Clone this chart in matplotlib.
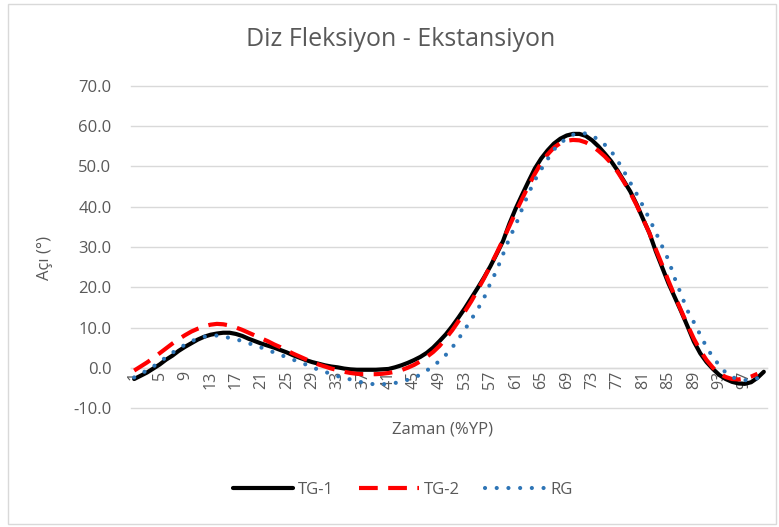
import matplotlib.pyplot as plt
from matplotlib.patches import Rectangle

# Datos (ángulo de rodilla por % del ciclo)
tg1 = [-2.8, -2.0, -1.2, -0.2, 0.8, 2.0, 3.0, 4.2, 5.2, 6.1,
       7.0, 7.7, 8.2, 8.5, 8.7, 8.7, 8.4, 7.9, 7.2, 6.6,
       6.0, 5.5, 5.0, 4.4, 3.8, 3.1, 2.5, 1.9, 1.4, 1.0,
       0.6, 0.3, 0.1, -0.2, -0.4, -0.5, -0.5, -0.5, -0.5, -0.4,
       -0.3, 0.1, 0.6, 1.2, 1.9, 2.7, 3.7, 5.0, 6.6, 8.3,
       10.3, 12.5, 14.8, 17.3, 19.8, 22.4, 25.2, 28.3, 31.5, 35.8,
       39.6, 43.0, 46.3, 49.5, 52.0, 54.0, 55.7, 56.9, 57.7, 58.1,
       58.1, 57.6, 56.5, 55.0, 53.2, 51.3, 49.0, 46.4, 43.8, 40.6,
       37.0, 33.5, 29.0, 25.0, 21.0, 17.5, 14.0, 10.3, 6.5, 3.6,
       1.4, -0.3, -1.8, -2.8, -3.5, -3.9, -4.0, -3.6, -2.5, -1.0]

tg2 = [-0.7, 0.3, 1.3, 2.4, 3.6, 4.8, 6.0, 7.1, 8.1, 9.0,
       9.7, 10.3, 10.7, 10.9, 10.8, 10.5, 10.0, 9.4, 8.7, 8.0,
       7.3, 6.6, 5.8, 5.1, 4.3, 3.5, 2.8, 2.1, 1.4, 0.8,
       0.3, -0.2, -0.6, -1.0, -1.3, -1.5, -1.6, -1.6, -1.6, -1.5,
       -1.3, -1.0, -0.6, 0.0, 0.7, 1.6, 2.7, 3.9, 5.4, 7.3,
       9.3, 11.6, 14.0, 16.5, 19.3, 22.2, 25.3, 28.5, 31.8, 35.2,
       38.7, 42.0, 45.2, 48.2, 50.9, 53.0, 54.7, 55.8, 56.4, 56.6,
       56.5, 56.0, 55.1, 53.9, 52.5, 50.8, 48.7, 46.2, 43.5, 40.4,
       37.0, 33.5, 29.5, 25.6, 21.6, 17.8, 14.2, 10.6, 7.2, 4.3,
       1.9, 0.0, -1.4, -2.3, -2.8, -2.9, -2.7, -2.2, -1.5]

rg = [-2.4, -1.5, -0.7, 0.3, 1.4, 2.6, 3.7, 4.8, 5.7, 6.6,
      7.2, 7.7, 8.0, 8.0, 7.8, 7.4, 7.1, 6.6, 6.1, 5.5,
      5.0, 4.4, 3.8, 3.2, 2.6, 2.0, 1.4, 0.8, 0.1, -0.5,
      -1.0, -1.6, -2.1, -2.5, -2.9, -3.3, -3.7, -4.0, -4.1, -4.1,
      -4.0, -3.8, -3.4, -3.0, -2.5, -1.7, -0.7, 0.4, 1.7, 3.2,
      5.0, 7.2, 9.5, 12.0, 14.5, 17.3, 21.0, 24.2, 28.2, 32.2,
      35.5, 39.5, 43.3, 46.6, 49.3, 51.8, 54.2, 55.8, 57.0, 57.9,
      58.3, 58.2, 57.7, 56.6, 55.4, 53.8, 51.5, 48.8, 46.0, 43.2,
      40.2, 37.0, 33.7, 30.2, 26.8, 22.2, 18.2, 14.2, 11.3, 8.2,
      5.1, 2.6, 0.6, -1.2, -2.3, -2.9, -3.1, -2.9, -2.6]

n_cat = 100
x_labels = [str(i) for i in range(1, n_cat + 1, 4)]
y_ticks = [-10, 0, 10, 20, 30, 40, 50, 60, 70]

gris = '#595959'
plt.rcParams['font.family'] = ['Open Sans', 'DejaVu Sans']

fig = plt.figure(figsize=(7.79, 5.27), dpi=100)
ax = fig.add_axes([131 / 779, 1 - 408 / 527, 636 / 779, 322 / 527])

# Borde del gráfico
fig.patches.append(Rectangle((8 / 779, 3 / 527), 768 / 779, 520 / 527,
                             transform=fig.transFigure, fill=False,
                             edgecolor='#d9d9d9', linewidth=1))

ax.plot(range(1, len(tg1) + 1), tg1, color='black', linewidth=3,
        solid_capstyle='round', label='TG-1', zorder=3)
ax.plot(range(1, len(tg2) + 1), tg2, color='#ff0000', linewidth=3,
        linestyle=(0, (4.5, 2.5)), dash_capstyle='butt', label='TG-2', zorder=4)
ax.plot(range(1, len(rg) + 1), rg, color='#2e75b6', linewidth=3,
        linestyle=(0, (0.01, 2.8)), dash_capstyle='round', label='RG', zorder=5)

ax.set_xlim(0.5, n_cat + 0.5)
ax.set_ylim(-10, 70)

# El eje horizontal cruza en 0 (como en Excel)
for s in ['top', 'right', 'left']:
    ax.spines[s].set_visible(False)
ax.spines['bottom'].set_position(('data', 0))
ax.spines['bottom'].set_color('#d9d9d9')
ax.spines['bottom'].set_linewidth(1)

ax.set_yticks(y_ticks)
ax.set_yticklabels([f'{v:.1f}' for v in y_ticks], color=gris, fontsize=12)
ax.set_xticks(range(1, n_cat + 1, 4))
ax.set_xticklabels(x_labels, rotation=90, color=gris, fontsize=11.5)
ax.tick_params(axis='y', length=0, pad=14)
ax.tick_params(axis='x', length=0, pad=2)

ax.grid(axis='y', color='#d9d9d9', linewidth=1)
for gl in ax.get_ygridlines():
    gl.set_clip_on(False)
ax.set_axisbelow(True)

fig.text(443 / 779, 1 - 430 / 527, 'Zaman (%YP)', ha='center', va='center',
         color=gris, fontsize=12)
fig.text(45 / 779, 1 - 258 / 527, 'Açı (°)', ha='center', va='center', rotation=90,
         color=gris, fontsize=12)
fig.text(401 / 779, 1 - 40 / 527, 'Diz Fleksiyon - Ekstansiyon', ha='center', va='center',
         color=gris, fontsize=18)

leg = fig.legend(loc='center', bbox_to_anchor=(403 / 779, 1 - 490 / 527), ncol=3,
                 frameon=False, fontsize=12, handlelength=3.6, columnspacing=1.5,
                 handletextpad=0.3)
for t in leg.get_texts():
    t.set_color(gris)

fig.savefig('out.png', dpi=100)
